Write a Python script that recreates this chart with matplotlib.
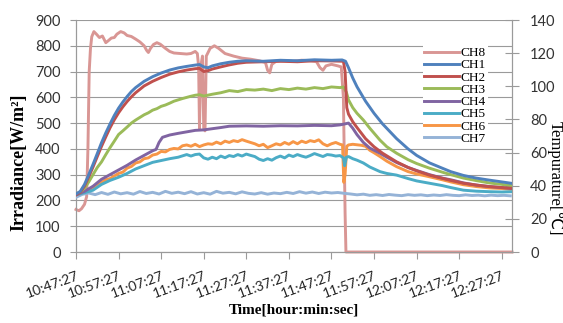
import matplotlib.pyplot as plt
import numpy as np

# minutes after 10:47:27
tick_pos = [0, 10, 20, 30, 40, 50, 60, 70, 80, 90, 100]
tick_labels = ['10:47:27', '10:57:27', '11:07:27', '11:17:27', '11:27:27', '11:37:27',
               '11:47:27', '11:57:27', '12:07:27', '12:17:27', '12:27:27']

# CH8 irradiance [W/m2], left axis
t_ch8 = [0, 0.7, 1.3, 2, 2.5, 2.8, 3.1, 3.4, 3.7, 4.2, 4.8, 5.5, 6.2, 7, 7.6, 8.3, 9, 9.6,
         10.5, 11.3, 12, 13, 14, 15, 16, 16.6, 17, 17.5, 18.2, 19, 19.8, 21, 22, 23, 24.5, 26,
         27, 28, 28.5, 28.8, 29, 29.3, 29.7, 30, 30.3, 30.6, 31.5, 32.5, 33.5, 35, 37, 39, 41,
         43, 44.5, 45, 45.5, 46, 47, 49, 51, 53, 55, 56.5, 57.3, 58, 58.7, 60, 61.5, 62.3,
         62.8, 63.2, 63.4, 102.4]
ch8 = [165, 160, 168, 185, 215, 400, 700, 790, 835, 855, 845, 832, 838, 812, 820, 830, 832, 845,
       855, 850, 840, 836, 826, 815, 800, 782, 774, 790, 805, 812, 806, 790, 778, 772, 770, 768,
       770, 778, 770, 720, 480, 720, 760, 480, 470, 760, 790, 800, 790, 770, 760, 752, 748,
       742, 735, 705, 695, 728, 740, 742, 740, 744, 742, 738, 715, 705, 722, 728, 722, 718,
       600, 150, 0, 0]

# temperatures [degC], right axis
t_ch1 = [0, 1, 2, 3, 4, 5, 6, 7, 8, 9, 10, 11, 12, 13, 14, 16, 18, 20, 22, 24, 26, 28, 29, 30,
         31, 32, 34, 36, 38, 40, 44, 48, 52, 56, 60, 62.5, 63.3, 64, 65, 66, 68, 70, 72, 75.3,
         78, 80, 83, 86, 88, 91, 94, 97, 100, 102.4]
ch1 = [35.0, 36.6, 40.8, 46.7, 52.9, 59.4, 66.0, 71.9, 77.3, 82.4, 86.8, 90.5, 93.8, 96.8, 99.2,
       103.0, 105.8, 108.0, 109.8, 111.1, 112.0, 112.8, 113.1, 111.7, 111.2, 112.3, 113.6, 114.5,
       115.1, 115.4, 115.1, 115.7, 115.4, 116.0, 115.7, 115.9, 115.1, 111.2, 105.0, 99.7, 91.0,
       83.7, 77.3, 68.4, 62.2, 58.3, 53.8, 50.6, 48.5, 46.2, 44.6, 43.4, 42.3, 41.4]

t_ch2 = [0, 1, 2, 3, 4, 5, 6, 7, 8, 9, 10, 11, 12, 13, 14, 16, 18, 20, 22, 24, 26, 28, 29, 30,
         31, 32, 34, 36, 38, 40, 44, 48, 52, 56, 60, 62.8, 63.2, 63.6, 64, 65, 66, 68, 70, 72,
         75.3, 78, 80, 83, 86, 88, 91, 94, 97, 100, 102.4]
ch2 = [34.5, 36.1, 39.8, 45.4, 51.3, 57.6, 63.8, 69.5, 75.0, 79.8, 84.0, 87.6, 90.8, 93.6, 96.1,
       100.2, 103.0, 105.3, 107.3, 108.7, 109.8, 110.6, 110.8, 108.9, 109.4, 110.4, 111.7, 112.9,
       113.9, 114.5, 114.8, 115.1, 114.8, 115.4, 115.3, 115.1, 108.9, 87.1, 83.2, 78.6, 75.1,
       68.4, 63.5, 59.6, 54.4, 51.0, 49.0, 46.4, 44.5, 43.2, 41.5, 40.4, 39.5, 38.9, 38.4]

t_ch3 = [0, 1, 2, 3, 4, 5, 6, 7, 8, 9, 10, 11, 12, 13, 14, 15, 16, 17, 18, 19, 20, 21, 22, 23,
         24, 25, 26, 27, 28, 29, 30, 32, 34, 36, 38, 40, 42, 44, 46, 48, 50, 52, 54, 56, 58, 60,
         62, 62.8, 63.5, 64, 65, 66, 67.5, 69, 71.4, 73, 75.3, 78, 80, 83, 86, 88, 91, 94, 97,
         100, 102.4]
ch3 = [35.0, 36.1, 38.6, 42.3, 46.7, 51.0, 54.4, 58.8, 63.0, 66.9, 70.9, 73.1, 75.4, 77.8, 79.6,
       81.2, 82.8, 84.0, 85.6, 86.5, 87.9, 88.7, 89.8, 91.0, 91.8, 92.6, 93.3, 94.0, 94.6, 94.9,
       94.1, 95.2, 96.1, 97.4, 96.8, 98.0, 97.7, 98.3, 97.4, 98.6, 98.0, 98.9, 98.3, 99.2, 98.6,
       99.6, 99.2, 99.6, 96.4, 91.8, 87.1, 83.7, 79.6, 74.7, 67.5, 63.5, 59.6, 55.7, 53.4, 50.6,
       48.2, 46.7, 44.6, 43.1, 41.7, 40.8, 40.0]

t_ch4 = [0, 2, 4, 6, 8, 10, 12, 14, 16, 18, 18.8, 19.5, 20.3, 22, 24, 26, 28, 30, 32, 34, 36,
         40, 44, 48, 52, 56, 60, 62, 63.5, 64, 65, 66, 67.5, 69, 71.4, 73, 75.3, 78, 80, 83, 86,
         88, 91, 94, 97, 100, 102.4]
ch4 = [34.5, 36.6, 39.7, 43.9, 46.7, 49.5, 52.3, 55.5, 58.3, 61.1, 61.9, 66.1, 69.2, 70.6, 71.6,
       72.5, 73.4, 73.7, 74.4, 75.1, 75.9, 76.1, 75.9, 76.2, 76.1, 76.4, 76.2, 76.7, 77.5, 77.8,
       74.7, 70.8, 66.1, 62.7, 59.6, 57.2, 54.0, 51.0, 49.2, 46.7, 44.6, 43.6, 41.7, 40.4, 39.5,
       38.9, 38.3]

t_ch5 = [0, 2, 4, 6, 8, 10, 12, 14, 16, 18, 20, 22, 24, 26, 27, 28, 29, 30, 31, 32, 33, 34, 35,
         36, 37, 38, 39, 40, 41, 42, 43, 44, 45, 46, 47, 48, 49, 50, 51, 52, 53, 54, 55, 56, 57,
         58, 59, 60, 61, 62, 62.8, 63.1, 63.5, 64, 65, 66, 67.5, 69, 71.4, 73, 75.3, 78, 80, 83,
         86, 88, 91, 94, 97, 100, 102.4]
ch5 = [34.5, 35.8, 37.3, 40.8, 43.2, 45.1, 47.4, 50.1, 52.1, 54.1, 55.2, 56.3, 57.2, 58.8, 57.9,
       58.8, 59.1, 56.8, 56.0, 57.2, 56.3, 57.9, 56.9, 58.2, 57.6, 58.8, 57.9, 59.1, 58.3, 57.6,
       56.0, 55.2, 56.3, 55.4, 56.9, 57.9, 56.8, 58.5, 57.6, 58.8, 57.9, 57.2, 58.2, 59.4, 58.5,
       57.6, 58.8, 58.5, 57.9, 58.2, 56.8, 52.1, 57.2, 57.6, 56.3, 55.4, 53.7, 51.3, 48.5, 47.4,
       46.4, 44.3, 42.9, 41.5, 40.1, 38.9, 37.3, 36.7, 36.4, 36.2, 36.4]

t_ch6 = [0, 2, 4, 6, 7, 8, 9, 10, 11, 12, 13, 14, 15, 16, 17, 18, 19, 20, 21, 22, 23, 24, 25,
         26, 27, 28, 29, 30, 31, 32, 33, 34, 35, 36, 37, 38, 39, 40, 41, 42, 43, 44, 45, 46, 47,
         48, 49, 50, 51, 52, 53, 54, 55, 56, 57, 58, 59, 60, 61, 62, 62.6, 62.9, 63.2, 63.6, 64,
         65, 66, 67, 68, 69, 70, 71.4, 73, 75.3, 78, 80, 83, 86, 88, 91, 94, 97, 100, 102.4]
ch6 = [34.5, 36.1, 38.6, 42.0, 43.6, 44.3, 45.9, 47.4, 48.2, 50.6, 51.6, 53.7, 54.4, 56.3, 56.8,
       58.5, 59.1, 60.7, 60.4, 61.9, 62.5, 62.2, 64.1, 64.6, 63.8, 65.0, 63.6, 64.6, 65.3, 65.0,
       66.3, 65.3, 66.9, 66.1, 67.2, 66.6, 67.8, 66.9, 66.1, 65.3, 64.1, 65.0, 63.0, 64.1, 65.3,
       64.6, 66.1, 65.0, 66.6, 65.3, 66.9, 66.0, 67.2, 66.6, 67.7, 65.3, 64.1, 65.3, 66.1, 65.0,
       64.6, 42.0, 46.7, 63.8, 64.6, 65.0, 64.7, 64.4, 63.8, 61.4, 59.9, 57.6, 54.8, 51.5, 48.5,
       47.1, 45.4, 43.6, 42.3, 40.6, 39.5, 38.7, 38.3, 37.8]

t_ch7 = np.arange(0, 103, 1.5)
ch7 = [33.0, 34.8, 35.6, 34.6, 35.9, 34.8, 36.2, 35.1, 35.8, 34.9, 36.5, 35.3, 36.0, 35.0, 36.6,
       35.4, 36.1, 35.2, 36.4, 35.0, 35.8, 34.9, 36.6, 35.5, 36.0, 35.1, 36.3, 35.4, 35.0, 35.8,
       34.9, 35.6, 35.2, 36.0, 35.3, 36.4, 35.5, 36.2, 35.3, 36.1, 35.6, 35.9, 35.4, 35.0, 34.5,
       34.9, 34.2, 34.6, 34.1, 34.7, 34.3, 34.0, 34.6, 34.2, 34.5, 34.0, 34.4, 34.1, 34.6, 34.2,
       34.0, 34.5, 34.1, 34.3, 33.9, 34.3, 34.0, 34.2, 33.9]

names = ['CH1', 'CH2', 'CH3', 'CH4', 'CH5', 'CH6', 'CH7']
colors = ['#4F81BD', '#C0504D', '#9BBB59', '#8064A2', '#4BACC6', '#F79646', '#95B3D7']

serif = ['Liberation Serif', 'DejaVu Serif']
grey = '#9A9A9A'

fig = plt.figure(figsize=(5.63, 3.23), dpi=100)
ax = fig.add_axes([76 / 563, 71 / 323, 436 / 563, 232 / 323])
ax2 = ax.twinx()

l8, = ax.plot(t_ch8, ch8, color='#D99694', lw=2.1, label='CH8', clip_on=False, zorder=3)

temps = [(t_ch1, ch1), (t_ch2, ch2), (t_ch3, ch3), (t_ch4, ch4),
         (t_ch5, ch5), (t_ch6, ch6), (t_ch7, ch7)]
handles = [l8]
# draw back to front so CH1 ends up on top like excel
lines = []
for i in range(len(temps)):
    ln, = ax2.plot(temps[i][0], temps[i][1], color=colors[i], lw=2.1, label=names[i],
                   zorder=10 - i)
    lines.append(ln)
handles += lines

ax.set_xlim(0, 102.4)
ax.set_ylim(0, 900)
ax.set_yticks(range(0, 901, 100))
ax2.set_ylim(0, 140)
ax2.set_yticks(range(0, 141, 20))
ax.set_xticks(tick_pos)
ax.set_xticklabels(tick_labels, rotation=20, ha='right', va='top',
                   rotation_mode='anchor', family='Lato', fontsize=10)

ax.grid(axis='y', color=grey, lw=0.8)
ax.set_axisbelow(True)
for a in (ax, ax2):
    for s in a.spines.values():
        s.set_color(grey)
        s.set_linewidth(0.8)
    a.spines['top'].set_visible(False)

ax.tick_params(axis='y', direction='out', length=4, width=0.8, color=grey, pad=7,
               labelsize=10.5, labelfontfamily='Lato', labelcolor='#333333')
ax.tick_params(axis='x', direction='out', length=5, width=0.8, color=grey, pad=8,
               labelcolor='#222222')
ax2.tick_params(axis='y', direction='inout', length=10, width=0.8, color=grey, pad=8,
                labelsize=10.5, labelfontfamily='Lato', labelcolor='#333333')

ax.set_ylabel('Irradiance[W/m²]', family=serif, fontweight='bold', fontsize=13,
              va='center', ha='center')
ax.yaxis.set_label_coords((19 - 76) / 436, (252 - 162) / 232)
ax2.set_ylabel('Tempurature[℃]', family=['Liberation Serif', 'DejaVu Sans'], fontsize=12,
               rotation=270, va='center', ha='center')
ax2.yaxis.set_label_coords((555 - 76) / 436, (252 - 178) / 232)
ax.set_xlabel('Time[hour:min:sec]', family=serif, fontweight='bold', fontsize=11, labelpad=2)

leg = ax2.legend(handles, [h.get_label() for h in handles], loc='upper right',
                 bbox_to_anchor=(488 / 563, 1 - 45 / 323), bbox_transform=fig.transFigure,
                 borderaxespad=0, frameon=True, fancybox=False, edgecolor='none',
                 facecolor='white', framealpha=1,
                 prop={'family': serif, 'size': 9.5}, labelspacing=0.0, handlelength=2.6,
                 handletextpad=0.15, borderpad=0.15)
leg.set_zorder(20)

fig.savefig('out.png', dpi=100)
